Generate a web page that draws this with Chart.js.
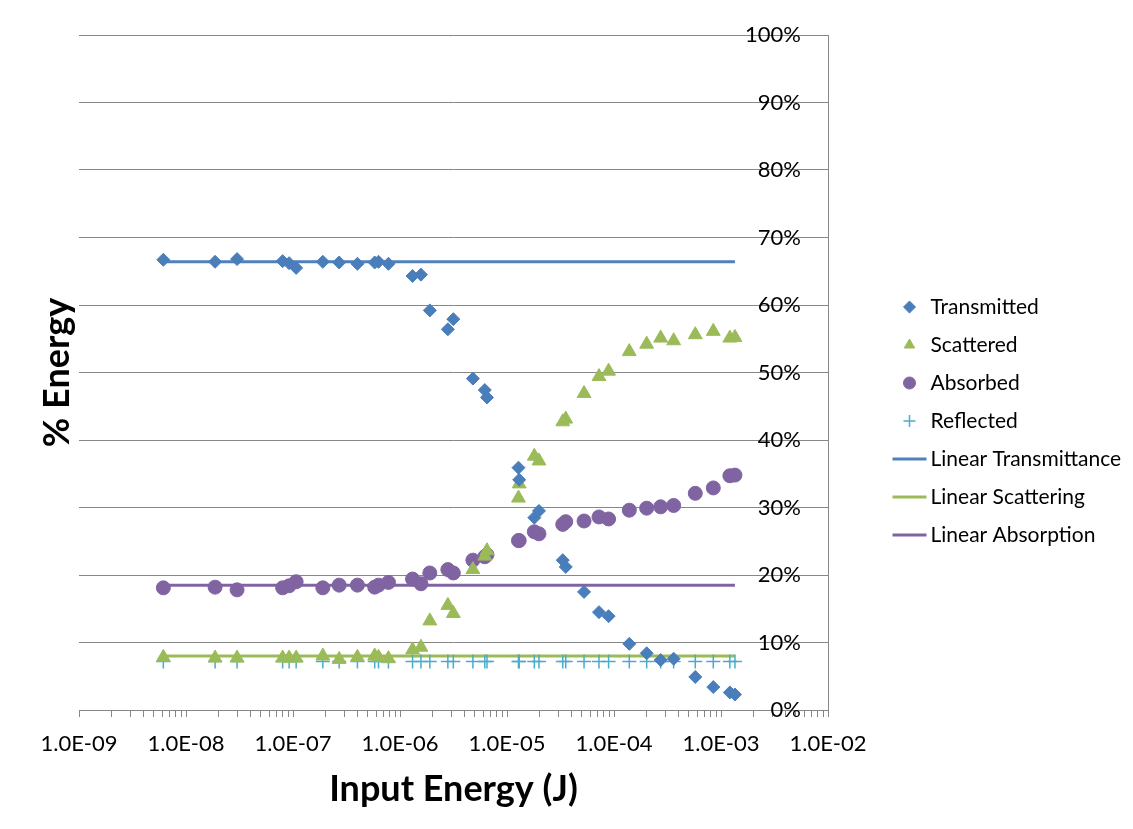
<!DOCTYPE html>
<html><head><meta charset="utf-8">
<script src="https://cdn.jsdelivr.net/npm/chart.js@4/dist/chart.umd.min.js"></script>
<style>html,body{margin:0;padding:0;background:#fff;} #wrap{width:1133px;height:829px;position:relative;} canvas{display:block;}</style>
</head><body><div id="wrap"><canvas id="c" width="1133" height="829"></canvas></div>
<script>
// Input energy (J)
const energies = [6.14e-9, 1.87e-8, 3.0e-8, 8.0e-8, 9.2e-8, 1.07e-7, 1.9e-7, 2.7e-7, 4.0e-7, 5.8e-7, 6.3e-7, 7.8e-7,
  1.31e-6, 1.57e-6, 1.9e-6, 2.8e-6, 3.15e-6, 4.8e-6, 6.2e-6, 6.5e-6, 1.28e-5, 1.30e-5, 1.80e-5, 1.99e-5,
  3.32e-5, 3.54e-5, 5.25e-5, 7.24e-5, 8.9e-5, 1.39e-4, 2.02e-4, 2.73e-4, 3.61e-4, 5.75e-4, 8.47e-4, 1.21e-3, 1.35e-3];
// % energy
const transmitted = [66.7, 66.4, 66.8, 66.5, 66.2, 65.5, 66.4, 66.3, 66.1, 66.3, 66.4, 66.1,
  64.3, 64.5, 59.2, 56.4, 57.9, 49.1, 47.4, 46.3, 35.9, 34.1, 28.5, 29.5,
  22.2, 21.2, 17.5, 14.5, 13.9, 9.8, 8.4, 7.4, 7.6, 4.9, 3.4, 2.6, 2.3];
const scattered = [7.8, 7.7, 7.7, 7.7, 7.7, 7.7, 8.0, 7.5, 7.8, 8.0, 7.8, 7.6,
  8.9, 9.3, 13.2, 15.5, 14.3, 20.8, 22.8, 23.6, 31.4, 33.5, 37.6, 36.9,
  42.7, 43.1, 46.9, 49.4, 50.2, 53.1, 54.2, 55.1, 54.7, 55.6, 56.1, 55.1, 55.2];
const absorbed = [18.1, 18.2, 17.8, 18.1, 18.4, 19.0, 18.1, 18.5, 18.5, 18.2, 18.5, 18.9,
  19.4, 18.7, 20.3, 20.8, 20.3, 22.2, 22.7, 23.0, 25.1, 25.1, 26.4, 26.1,
  27.5, 27.9, 28.0, 28.6, 28.3, 29.6, 29.9, 30.1, 30.3, 32.1, 32.9, 34.7, 34.8];
const reflected = [7.2, 7.2, 7.2, 7.2, 7.2, 7.2, 7.2, 7.2, 7.2, 7.2, 7.2, 7.2,
  7.2, 7.2, 7.2, 7.2, 7.2, 7.2, 7.2, 7.2, 7.2, 7.2, 7.2, 7.2,
  7.2, 7.2, 7.2, 7.2, 7.2, 7.2, 7.2, 7.2, 7.2, 7.2, 7.2, 7.2, 7.2];
// Linear (low-energy) reference lines
const lineEnergies = [6.14e-9, 1.35e-3];
const linearTransmittance = [66.4, 66.4];
const linearScattering = [8.0, 8.0];
const linearAbsorption = [18.5, 18.5];

const xTickLabels = ['1.0E-09','1.0E-08','1.0E-07','1.0E-06','1.0E-05','1.0E-04','1.0E-03','1.0E-02'];
const yTickLabels = ['0%','10%','20%','30%','40%','50%','60%','70%','80%','90%','100%'];

const BLUE = '#4A7EBB', GREEN = '#9BBB59', PURPLE = '#8064A2', AQUA = '#4BACC6';
const GRID = '#878787';

function pts(xs, ys) { return xs.map((x, i) => ({x: x, y: ys[i]})); }
function lineIcon(color) {
  const c = document.createElement('canvas');
  c.width = 38; c.height = 4;
  const g = c.getContext('2d');
  g.fillStyle = color; g.fillRect(2, 0.5, 34, 3);
  return c;
}

// let the legend take its natural width instead of the default 1/6 cap
const legendWidthPlugin = {
  id: 'legendWidth',
  beforeLayout(chart) {
    const lg = chart.legend;
    if (lg && !lg._wPatched) {
      const orig = lg.fit.bind(lg);
      lg.fit = function () { orig(); this.width = 243; };
      lg._wPatched = true;
    }
  }
};

const font = 'Lato';
new Chart(document.getElementById('c'), {
  type: 'scatter',
  plugins: [legendWidthPlugin],
  data: {
    datasets: [
      {label: 'Transmitted', data: pts(energies, transmitted), pointStyle: 'rectRot', pointRadius: 6.5,
        backgroundColor: BLUE, borderColor: BLUE, borderWidth: 1},
      {label: 'Scattered', data: pts(energies, scattered), pointStyle: 'triangle', pointRadius: 8,
        backgroundColor: GREEN, borderColor: GREEN, borderWidth: 1},
      {label: 'Absorbed', data: pts(energies, absorbed), pointStyle: 'circle', pointRadius: 7,
        backgroundColor: PURPLE, borderColor: PURPLE, borderWidth: 1},
      {label: 'Reflected', data: pts(energies, reflected), pointStyle: 'cross', pointRadius: 7,
        backgroundColor: AQUA, borderColor: AQUA, borderWidth: 1.5},
      {label: 'Linear Transmittance', data: pts(lineEnergies, linearTransmittance), showLine: true,
        pointRadius: 0, pointStyle: lineIcon('#4F81BD'), borderColor: '#4F81BD', backgroundColor: '#4F81BD', borderWidth: 3},
      {label: 'Linear Scattering', data: pts(lineEnergies, linearScattering), showLine: true,
        pointRadius: 0, pointStyle: lineIcon(GREEN), borderColor: GREEN, backgroundColor: GREEN, borderWidth: 3},
      {label: 'Linear Absorption', data: pts(lineEnergies, linearAbsorption), showLine: true,
        pointRadius: 0, pointStyle: lineIcon(PURPLE), borderColor: PURPLE, backgroundColor: PURPLE, borderWidth: 3}
    ]
  },
  options: {
    responsive: false,
    animation: false,
    events: [],
    layout: {padding: {top: 35, right: 8, bottom: 22, left: 0}},
    plugins: {
      tooltip: {enabled: false},
      legend: {
        position: 'right',
        align: 'center',
        labels: {
          usePointStyle: true,
          boxHeight: 8.5,
          padding: 17,
          color: '#000',
          font: {family: font, size: 21}
        }
      }
    },
    scales: {
      x: {
        type: 'logarithmic', position: 'bottom', min: 1e-9, max: 1e-2,
        afterBuildTicks: (s) => {
          const t = [];
          for (let e = -9; e <= -2; e++) {
            for (let m = 1; m <= 9; m++) {
              if (e === -2 && m > 1) break;
              t.push({value: m * Math.pow(10, e)});
            }
          }
          s.ticks = t;
        },
        ticks: {
          autoSkip: false, maxRotation: 0, minRotation: 0, padding: 14, color: '#000',
          font: {family: font, size: 22},
          callback: (v) => {
            const e = Math.round(Math.log10(v));
            if (Math.abs(v / Math.pow(10, e) - 1) < 1e-6) return xTickLabels[e + 9];
            return '';
          }
        },
        grid: {drawOnChartArea: false, drawTicks: true, tickLength: 7, color: GRID},
        border: {display: true, color: GRID, width: 1},
        title: {display: true, text: 'Input Energy (J)', color: '#000',
          font: {family: font, size: 36, weight: 'bold'}, padding: {top: 0, bottom: -4}},
        afterFit: (s) => { s.height = 97; }
      },
      y: {
        type: 'linear', position: 'right', min: 0, max: 100,
        ticks: {stepSize: 10, mirror: true, padding: -27, color: '#000',
          font: {family: font, size: 22},
          callback: (v) => yTickLabels[Math.round(v / 10)]},
        grid: {color: GRID, lineWidth: 1, drawTicks: false},
        border: {display: true, color: GRID, width: 1},
        afterFit: (s) => { s.width = 54; }
      },
      yt: {
        type: 'linear', position: 'left', display: true,
        ticks: {display: false}, grid: {display: false}, border: {display: false},
        title: {display: true, text: '% Energy', color: '#000',
          font: {family: font, size: 36, weight: 'bold'}, padding: {top: 36, bottom: 0}},
        afterFit: (s) => { s.width = 79; }
      }
    }
  }
});
</script>
</body></html>
